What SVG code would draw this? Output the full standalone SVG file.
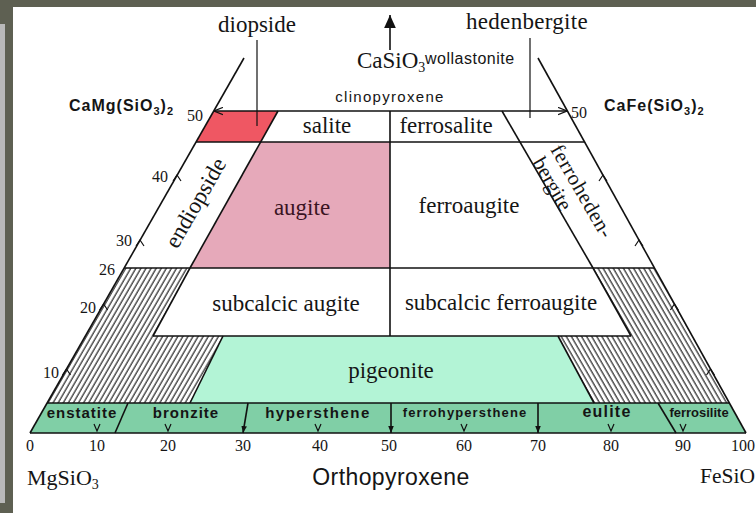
<svg xmlns="http://www.w3.org/2000/svg" width="756" height="513" viewBox="0 0 756 513">
<style>
.ln{stroke:#111;stroke-width:1.6;fill:none}
.th{stroke:#111;stroke-width:1.2;fill:none}
.sr{font-family:"Liberation Serif","Times New Roman",serif;font-size:23px;fill:#151515}
.num{font-family:"Liberation Serif","Times New Roman",serif;font-size:16px;fill:#151515}
.ss{font-family:"Liberation Sans",Arial,sans-serif;fill:#151515}
.bd{font-weight:bold}
.band{font-family:"Liberation Sans",Arial,sans-serif;font-weight:bold;font-size:15px;letter-spacing:1px;fill:#151515;text-anchor:middle}
.mid{text-anchor:middle}
</style>
<defs>
<pattern id="hatchL" patternUnits="userSpaceOnUse" width="4.4" height="10" patternTransform="rotate(30)">
<line x1="1" y1="0" x2="1" y2="10" stroke="#111" stroke-width="1.1"/>
</pattern>
<pattern id="hatchR" patternUnits="userSpaceOnUse" width="4.4" height="10" patternTransform="rotate(-30)">
<line x1="1" y1="0" x2="1" y2="10" stroke="#111" stroke-width="1.1"/>
</pattern>
<marker id="open" viewBox="0 0 10 10" refX="10" refY="5" markerWidth="9" markerHeight="9" orient="auto-start-reverse" markerUnits="userSpaceOnUse">
<path d="M0,1 L10,5 L0,9" fill="none" stroke="#111" stroke-width="1.4"/>
</marker>
<marker id="fillS" viewBox="0 0 10 10" refX="10" refY="5" markerWidth="7" markerHeight="7" orient="auto" markerUnits="userSpaceOnUse">
<path d="M0,1 L10,5 L0,9 z" fill="#111"/>
</marker>
<marker id="fillB" viewBox="0 0 10 10" refX="10" refY="5" markerWidth="13" markerHeight="13" orient="auto" markerUnits="userSpaceOnUse">
<path d="M0,0.5 L10,5 L0,9.5 z" fill="#111"/>
</marker>
</defs>

<!-- frame -->
<rect x="0" y="0" width="756" height="513" fill="#ffffff"/>
<rect x="0" y="0" width="756" height="7" fill="#5e6052"/>
<rect x="0" y="0" width="13" height="513" fill="#5e6052"/>
<rect x="0" y="24" width="5" height="479" fill="#b9b9b9"/>

<!-- regions -->
<g id="diopside">
<polygon points="213.8,111 278,111 261,142 196.1,142" fill="#ef5763"/>
</g>
<g id="augite">
<polygon points="261,142 390,142 390,268 190,268" fill="#e6a9ba"/>
<text class="sr mid" x="302" y="215" style="fill:#3a1422">augite</text>
</g>
<g id="hatch-left">
<polygon points="124.2,268 190,268 153,336 223,336 190,403 47.1,403" fill="url(#hatchL)"/>
</g>
<g id="hatch-right">
<polygon points="593,268 654.5,268 729.4,403 594,403 558,336 631,336" fill="url(#hatchR)"/>
</g>
<g id="pigeonite">
<polygon points="223,336 558,336 594,403 190,403" fill="#b3f4d6"/>
<text class="sr mid" x="391" y="378">pigeonite</text>
</g>
<g id="orthopyroxene-band">
<polygon points="30,433 47.1,403 729.4,403 746,433" fill="#80cfa6"/>
</g>

<!-- boundary lines -->
<g id="connectors">
<line class="ln" x1="30" y1="433" x2="244" y2="58"/>
<line class="ln" x1="538" y1="58" x2="746" y2="433"/>
<path class="ln" d="M214,111 L567,111" marker-start="url(#open)" marker-end="url(#open)"/>
<line class="ln" x1="196.1" y1="142" x2="584.6" y2="142"/>
<line class="ln" x1="124.2" y1="268" x2="654.5" y2="268"/>
<line class="ln" x1="278" y1="111" x2="190" y2="268"/>
<line class="ln" x1="390" y1="111" x2="390" y2="336"/>
<line class="ln" x1="502" y1="111" x2="593" y2="268"/>
<line class="ln" x1="190" y1="268" x2="153" y2="336"/>
<line class="ln" x1="593" y1="268" x2="631" y2="336"/>
<line class="ln" x1="153" y1="336" x2="631" y2="336"/>
<line class="ln" x1="223" y1="336" x2="190" y2="403"/>
<line class="ln" x1="558" y1="336" x2="594" y2="403"/>
<line class="ln" x1="47.1" y1="403" x2="729.4" y2="403"/>
<line class="ln" x1="30" y1="433" x2="746" y2="433"/>
<!-- leaders -->
<line class="th" x1="257" y1="40" x2="257" y2="126"/>
<line class="th" x1="530" y1="38" x2="530" y2="118"/>
<line class="ln" x1="390" y1="50" x2="390" y2="15" marker-end="url(#fillB)"/>
<!-- band dividers -->
<line class="ln" x1="115" y1="433" x2="128" y2="403"/>
<line class="ln" x1="248" y1="403" x2="243" y2="433" marker-end="url(#fillS)"/>
<line class="ln" x1="391" y1="403" x2="391" y2="433" marker-end="url(#fillS)"/>
<line class="ln" x1="538" y1="403" x2="538" y2="433" marker-end="url(#fillS)"/>
<line class="ln" x1="658" y1="403" x2="676" y2="433"/>
<!-- side ticks -->
<path class="th" d="M173,181 L177,175 L181,181 M136,246 L140,240 L144,246 M99.6,310 L103.6,304 L107.6,310 M62.5,375 L66.5,369 L70.5,375"/>
<path class="th" d="M599,181 L603,175 L607,181 M635,246 L639,240 L643,246 M670.4,310 L674.4,304 L678.4,310 M706.5,375 L710.5,369 L714.5,375"/>
<!-- band v ticks -->
<path class="th" d="M94,424 L97,431 L100,424 M165,424 L168,431 L171,424 M315,424 L318,431 L321,424 M461,424 L464,431 L467,424 M608,424 L611,431 L614,424 M680,424 L683,431 L686,424"/>
</g>

<!-- top labels -->
<g id="top-labels">
<text class="sr mid" x="257" y="32">diopside</text>
<text class="sr mid" x="527" y="29" style="letter-spacing:0.3px">hedenbergite</text>
<text class="sr" x="357" y="68">CaSiO<tspan font-size="14" dy="4">3</tspan></text>
<text class="ss" x="425" y="64" font-size="16" style="letter-spacing:0.5px">wollastonite</text>
<text class="ss mid" x="390" y="102" font-size="15" style="letter-spacing:1.3px">clinopyroxene</text>
<text class="ss bd" x="69" y="111" font-size="16" style="letter-spacing:1px">CaMg(SiO<tspan font-size="11" dy="4">3</tspan><tspan dy="-4">)</tspan><tspan font-size="11" dy="4">2</tspan></text>
<text class="ss bd" x="604" y="111" font-size="16" style="letter-spacing:1px">CaFe(SiO<tspan font-size="11" dy="4">3</tspan><tspan dy="-4">)</tspan><tspan font-size="11" dy="4">2</tspan></text>
</g>

<!-- scale labels -->
<g id="scale-labels" class="num">
<text x="187" y="121">50</text>
<text x="571" y="118">50</text>
<text x="152" y="182">40</text>
<text x="116" y="246">30</text>
<text x="99" y="275">26</text>
<text x="80" y="313">20</text>
<text x="43" y="378">10</text>
<text class="mid" x="30" y="451">0</text>
<text class="mid" x="97" y="451">10</text>
<text class="mid" x="168" y="451">20</text>
<text class="mid" x="243" y="451">30</text>
<text class="mid" x="320" y="451">40</text>
<text class="mid" x="389" y="451">50</text>
<text class="mid" x="464" y="451">60</text>
<text class="mid" x="538" y="451">70</text>
<text class="mid" x="611" y="451">80</text>
<text class="mid" x="683" y="451">90</text>
<text x="731" y="451">100</text>
</g>

<!-- region labels -->
<g id="salite"><text class="sr mid" x="327" y="133">salite</text></g>
<g id="ferrosalite"><text class="sr mid" x="446" y="133">ferrosalite</text></g>
<g id="ferroaugite"><text class="sr mid" x="469" y="213">ferroaugite</text></g>
<g id="subcalcic-augite"><text class="sr mid" x="286" y="311">subcalcic augite</text></g>
<g id="subcalcic-ferroaugite"><text class="sr mid" x="501" y="310">subcalcic ferroaugite</text></g>
<g id="endiopside"><text class="sr mid" transform="translate(196,203) rotate(-60)" x="0" y="7">endiopside</text></g>
<g id="ferrohedenbergite" transform="translate(563,142) rotate(60)">
<text class="sr" x="0" y="15" style="font-size:21px;letter-spacing:0.6px">ferroheden-</text>
<text class="sr" x="2" y="37" style="font-size:21px">bergite</text>
</g>

<!-- band labels -->
<g id="enstatite"><text class="band" x="82" y="418">enstatite</text></g>
<g id="bronzite"><text class="band" x="186" y="418">bronzite</text></g>
<g id="hypersthene"><text class="band" x="318" y="418" style="letter-spacing:1.5px">hypersthene</text></g>
<g id="ferrohypersthene"><text class="band" x="465" y="417" style="font-size:13px;letter-spacing:1.1px">ferrohypersthene</text></g>
<g id="eulite"><text class="band" x="607" y="417" style="font-size:16px;letter-spacing:1.2px">eulite</text></g>
<g id="ferrosilite"><text class="ss mid" x="699" y="417" font-size="13" style="font-weight:600">ferrosilite</text></g>

<!-- bottom labels -->
<g id="bottom-labels">
<text class="sr" x="27" y="485" style="font-size:22px">MgSiO<tspan font-size="14" dy="4">3</tspan></text>
<text class="ss mid" x="391" y="485" font-size="23" style="letter-spacing:0.4px">Orthopyroxene</text>
<text class="sr" x="700" y="483" style="font-size:21.5px">FeSiO</text>
</g>
</svg>
